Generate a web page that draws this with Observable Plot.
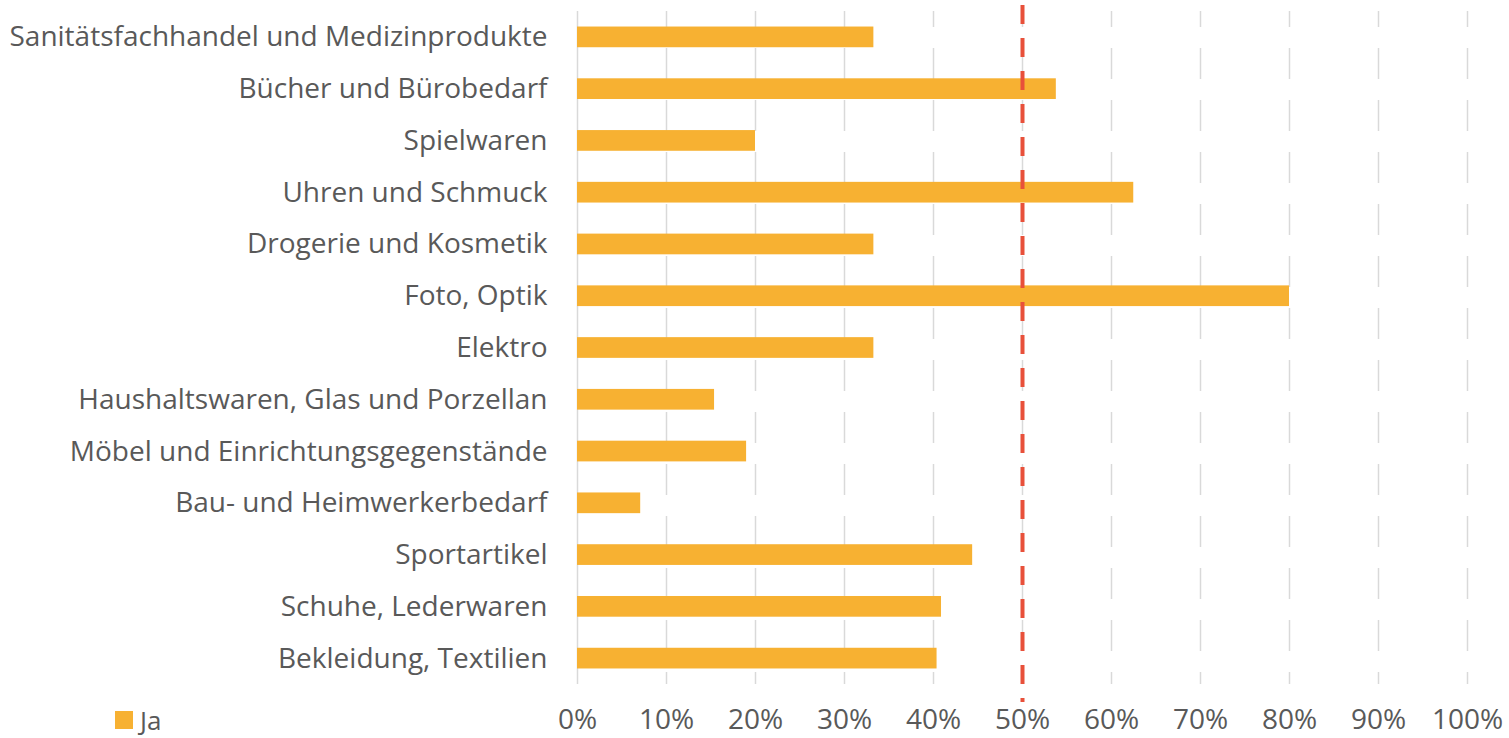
<!DOCTYPE html>
<html>
<head>
<meta charset="utf-8">
<script src="https://cdn.jsdelivr.net/npm/d3@7"></script>
<script src="https://cdn.jsdelivr.net/npm/@observablehq/plot@0.6"></script>
<style>
  html, body { margin: 0; padding: 0; background: #fff; }
  #wrap { position: relative; width: 1509px; height: 738px; }
  #legend { position: absolute; left: 115px; top: 707px; font-family: "Open Sans", sans-serif; font-size: 26px; line-height: 26px; color: #595959; display: flex; align-items: center; }
  #legend .sw { width: 18px; height: 18px; background: #F7B132; margin-right: 7px; }
</style>
</head>
<body>
<div id="wrap"><div id="chart"></div><div id="legend"><span class="sw"></span><span>Ja</span></div></div>
<script>
const categories = [
  "Sanitätsfachhandel und Medizinprodukte",
  "Bücher und Bürobedarf",
  "Spielwaren",
  "Uhren und Schmuck",
  "Drogerie und Kosmetik",
  "Foto, Optik",
  "Elektro",
  "Haushaltswaren, Glas und Porzellan",
  "Möbel und Einrichtungsgegenstände",
  "Bau- und Heimwerkerbedarf",
  "Sportartikel",
  "Schuhe, Lederwaren",
  "Bekleidung, Textilien"
];
const jaValues = [0.333, 0.538, 0.20, 0.625, 0.333, 0.80, 0.333, 0.154, 0.19, 0.071, 0.444, 0.409, 0.404];
const xTicks = [0, 0.1, 0.2, 0.3, 0.4, 0.5, 0.6, 0.7, 0.8, 0.9, 1.0];
const referenceLine = [0.5];

const data = categories.map((c, i) => ({category: c, value: jaValues[i]}));

const chart = Plot.plot({
  width: 1509,
  height: 738,
  marginLeft: 577,
  marginRight: 42,
  marginTop: 11,
  marginBottom: 54,
  style: {fontFamily: "'Open Sans', sans-serif", fontSize: "28px", color: "#595959", background: "#fff"},
  x: {domain: [0, 1], label: null},
  y: {domain: categories, paddingInner: 0.6, paddingOuter: 0.3, round: false, label: null},
  marks: [
    Plot.gridX(xTicks.slice(1), {stroke: "#d9d9d9", strokeOpacity: 1, strokeWidth: 1.5, strokeDasharray: "31,21", strokeDashoffset: 15}),
    Plot.ruleX([0], {stroke: "#d9d9d9", strokeWidth: 1.5}),
    Plot.barX(data, {x: "value", y: "category", fill: "#F7B132"}),
    Plot.ruleX(referenceLine, {stroke: "#E8503A", strokeWidth: 4, strokeDasharray: "19,14", insetTop: -6, insetBottom: -18}),
    Plot.axisX(xTicks, {tickSize: 0, tickPadding: 25, tickFormat: d => Math.round(d * 100) + "%", fill: "#595959", fontSize: 28, label: null}),
    Plot.axisY({tickSize: 0, tickPadding: 30, fill: "#595959", fontSize: 28, label: null})
  ]
});
document.getElementById("chart").appendChild(chart);
</script>
</body>
</html>
